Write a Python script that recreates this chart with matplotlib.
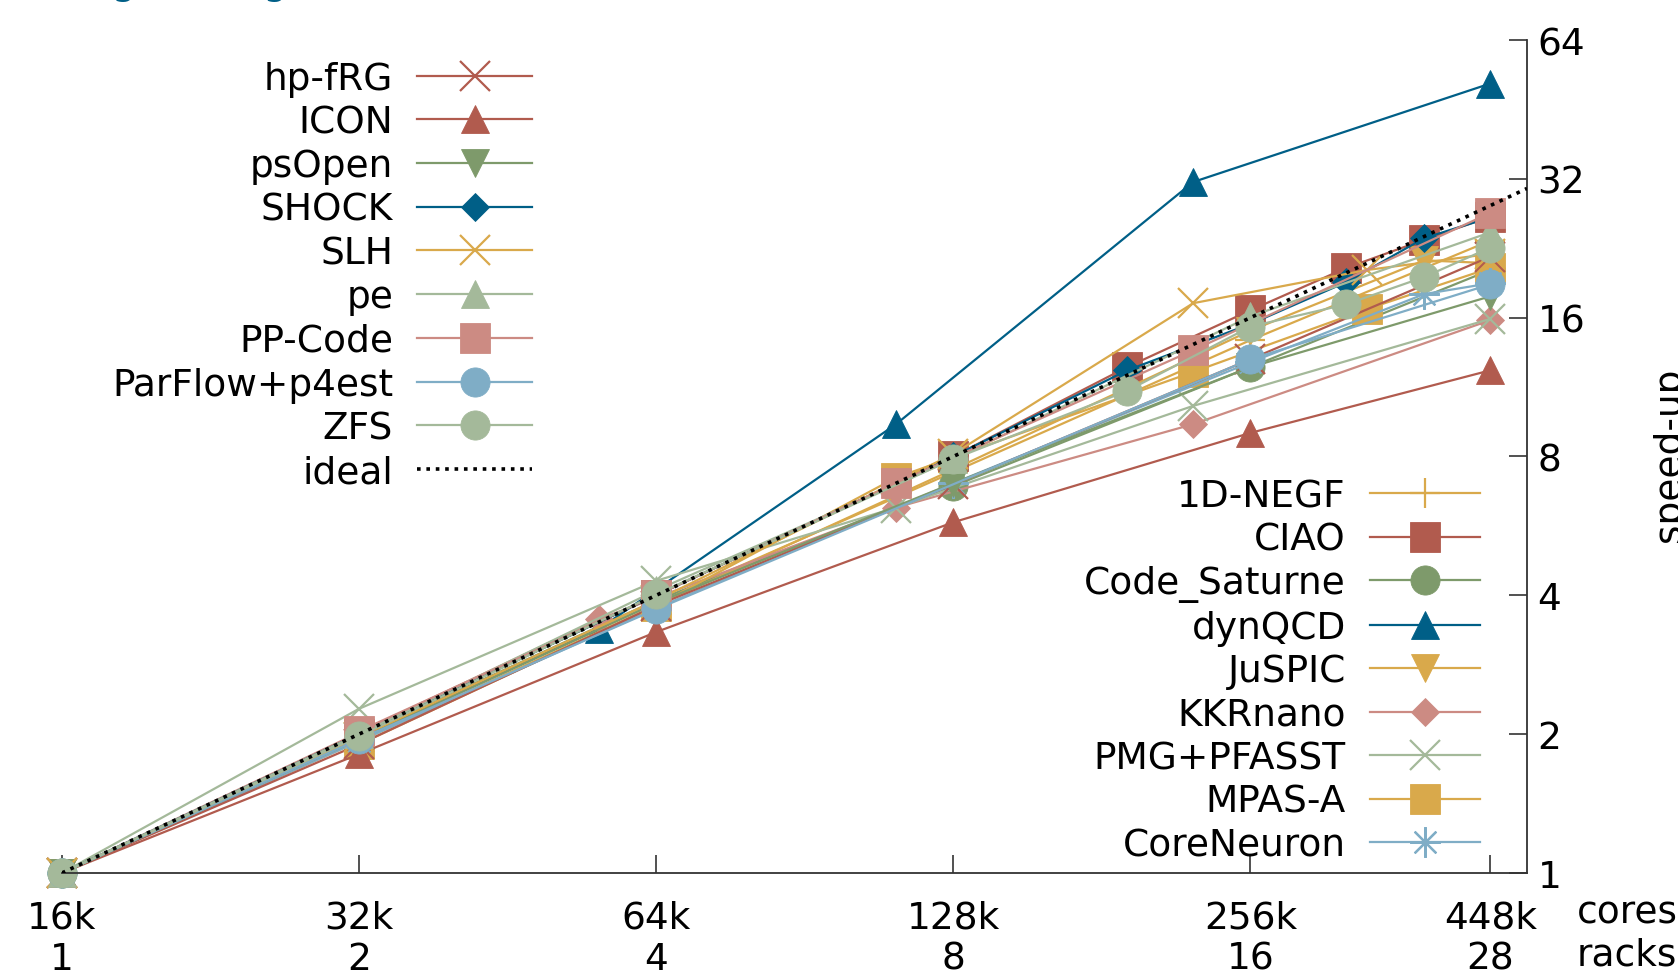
import numpy as np
import matplotlib
matplotlib.use('Agg')
import matplotlib.pyplot as plt

#--------------------------------
#Configurations of the graphs
#--------------------------------
plt.rcParams['font.family'] = 'DejaVu Sans'
plt.rcParams['font.size'] = 27
plt.rcParams['lines.linewidth'] = 1.6

#--------------------------------
#Data (racks of 16k cores, speed-up)
#--------------------------------
tick_racks = [1, 2, 4, 8, 16, 28]
tick_labels = ['16k\n1', '32k\n2', '64k\n4', '128k\n8', '256k\n16', '448k\n28']
speedup_ticks = [1, 2, 4, 8, 16, 32, 64]

hpfrg_x = [1, 2, 4, 8, 16, 28]
hpfrg_y = [1, 1.9, 3.8, 6.96, 13.0, 21.7]
icon_x = [1, 2, 4, 8, 16, 28]
icon_y = [1, 1.81, 3.33, 5.76, 9.0, 12.3]
psopen_x = [1, 2, 4, 8, 16, 28]
psopen_y = [1, 1.95, 3.85, 7.0, 12.5, 17.8]
shock_x = [1, 2, 4, 8, 12, 16, 20, 24, 28]
shock_y = [1, 2.0, 4.0, 8.0, 12.3, 15.5, 19.1, 23.8, 26.4]
slh_x = [1, 2, 4, 8, 14, 21, 28]
slh_y = [1, 1.97, 3.9, 8.1, 17.2, 20.3, 22.0]
pe_x = [1, 2, 4, 8, 16, 28]
pe_y = [1, 2.0, 4.1, 7.9, 16.1, 24.5]
ppcode_x = [2, 4, 7, 14, 28]
ppcode_y = [2.03, 4.0, 7.0, 13.6, 27.0]
parflow_x = [1, 2, 4, 16, 28]
parflow_y = [1, 1.95, 3.73, 13.0, 18.9]
zfs_x = [1, 2, 4, 8, 12, 16, 20, 24, 28]
zfs_y = [1, 1.98, 4.02, 7.9, 11.1, 15.3, 17.1, 19.6, 22.7]

negf_x = [1, 2, 4, 8, 16, 28]
negf_y = [1, 1.97, 3.85, 7.4, 14.3, 23.5]
ciao_x = [2, 4, 8, 12, 16, 20, 24, 28]
ciao_y = [2.0, 4.0, 8.0, 12.5, 16.6, 20.5, 23.6, 26.5]
saturne_x = [1, 2, 4, 8, 16, 28]
saturne_y = [1, 1.98, 3.9, 6.9, 12.5, 20.3]
dynqcd_x = [1, 3.5, 7, 14, 28]
dynqcd_y = [1, 3.38, 9.4, 31.5, 51.5]
juspic_x = [1, 2, 4, 8, 16, 24, 28]
juspic_y = [1, 1.93, 3.8, 7.5, 15.0, 21.3, 21.0]
kkrnano_x = [1, 3.5, 7, 14, 28]
kkrnano_y = [1, 3.55, 6.2, 9.4, 15.8]
pmg_x = [1, 2, 4, 7, 14, 28]
pmg_y = [1, 2.27, 4.3, 6.2, 10.3, 15.9]
mpas_x = [2, 4, 7, 14, 21, 28]
mpas_y = [1.9, 3.8, 7.2, 12.2, 16.7, 20.5]
coreneuron_x = [1, 2, 4, 8, 16, 24, 28]
coreneuron_y = [1, 1.93, 3.75, 7.0, 12.8, 18.0, 19.0]

xmax = 30.5

#--------------------------------
#Colours and markers
#--------------------------------
red = '#b15b4e'
olive = '#7e9a6b'
blue = '#005f87'
gold = '#d9a94b'
lgreen = '#a4b99a'
pink = '#cc8b83'
lblue = '#7fadc6'
asterisk = (8, 2, 0)

# label, x, y, colour, marker, markersize
left_series = [
    ('hp-fRG', hpfrg_x, hpfrg_y, red, 'x', 22),
    ('ICON', icon_x, icon_y, red, '^', 20),
    ('psOpen', psopen_x, psopen_y, olive, 'v', 20),
    ('SHOCK', shock_x, shock_y, blue, 'D', 14),
    ('SLH', slh_x, slh_y, gold, 'x', 22),
    ('pe', pe_x, pe_y, lgreen, '^', 20),
    ('PP-Code', ppcode_x, ppcode_y, pink, 's', 21),
    ('ParFlow+p4est', parflow_x, parflow_y, lblue, 'o', 21),
    ('ZFS', zfs_x, zfs_y, lgreen, 'o', 21),
]
right_series = [
    ('1D-NEGF', negf_x, negf_y, gold, '+', 22),
    ('CIAO', ciao_x, ciao_y, red, 's', 21),
    ('Code_Saturne', saturne_x, saturne_y, olive, 'o', 21),
    ('dynQCD', dynqcd_x, dynqcd_y, blue, '^', 20),
    ('JuSPIC', juspic_x, juspic_y, gold, 'v', 20),
    ('KKRnano', kkrnano_x, kkrnano_y, pink, 'D', 14),
    ('PMG+PFASST', pmg_x, pmg_y, lgreen, 'x', 22),
    ('MPAS-A', mpas_x, mpas_y, gold, 's', 21),
    ('CoreNeuron', coreneuron_x, coreneuron_y, lblue, asterisk, 22),
]

#--------------------------------
#Plotting
#--------------------------------
fig = plt.figure(figsize=(16.78, 9.79), dpi=100)
ax = fig.add_axes([0.0369, 0.1073, 0.8731, 0.8508])


def draw(series):
    handles = []
    for label, x, y, c, m, ms in series:
        open_marker = m in ('x', '+', asterisk)
        ln, = ax.plot(x, y, color=c, marker=m, markersize=ms,
                      markeredgewidth=1.6 if open_marker else 0.6,
                      markeredgecolor=c, label=label, clip_on=False)
        handles.append(ln)
    return handles


# right-hand key series are drawn first, the left ones on top
right_handles = draw(right_series)
left_handles = draw(left_series)

ideal_x = np.array([1, xmax])
ideal, = ax.plot(ideal_x, ideal_x, color='black', lw=2.6,
                 linestyle=(0, (1, 1.6)), label='ideal', zorder=3)
left_handles.append(ideal)

ax.set_xscale('log', base=2)
ax.set_yscale('log', base=2)
ax.set_xlim(1, xmax)
ax.set_ylim(1, 64)
ax.minorticks_off()

ax.set_xticks(tick_racks)
ax.set_xticklabels(tick_labels)
ax.set_yticks(speedup_ticks)
ax.set_yticklabels([str(v) for v in speedup_ticks])

ax.yaxis.tick_right()
ax.tick_params(axis='both', direction='in', length=13, width=1.2,
               color='#333333')
ax.tick_params(axis='x', pad=19)
ax.tick_params(axis='y', pad=7.5)

for edge in ['left', 'top']:
    ax.spines[edge].set_visible(False)
for edge in ['right', 'bottom']:
    ax.spines[edge].set_color('#333333')
    ax.spines[edge].set_linewidth(1.3)

ax.annotate('cores\nracks', xy=(1, 0), xycoords='axes fraction',
            xytext=(36, -15.6), textcoords='offset points',
            ha='left', va='top')
fig.text(1652 / 1678, 0.5355, 'speed-up', rotation=90,
         ha='left', va='center')
fig.text(6 / 1678, 1 + 6.6 / 979, 'Strong scaling', color=blue,
         fontsize=28.5, ha='left', va='baseline')

leg1 = ax.legend(handles=left_handles, loc='upper right',
                 bbox_to_anchor=(0.321, 0.975), markerfirst=False,
                 frameon=False, handlelength=3.07, handletextpad=0.64,
                 labelspacing=0.205, borderpad=0, borderaxespad=0,
                 numpoints=1)
ax.add_artist(leg1)
ax.legend(handles=right_handles, loc='upper right',
          bbox_to_anchor=(0.968, 0.474), markerfirst=False,
          frameon=False, handlelength=2.94, handletextpad=0.64,
          labelspacing=0.2, borderpad=0, borderaxespad=0, numpoints=1)

plt.savefig('out.png', dpi=100)
